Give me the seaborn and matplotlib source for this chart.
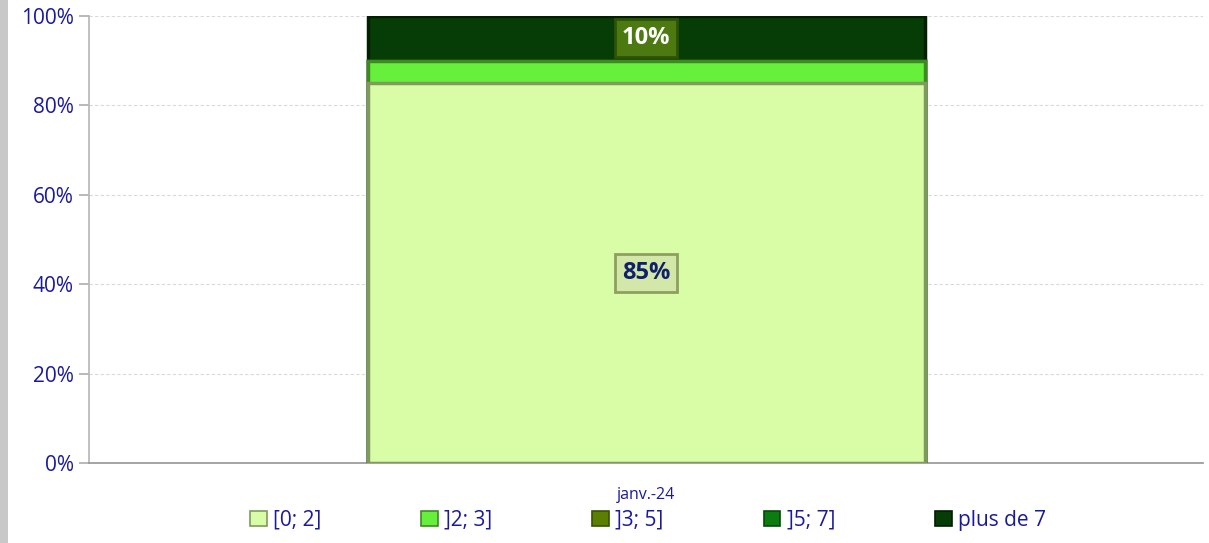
import numpy as np
import pandas as pd
import matplotlib
matplotlib.use("Agg")
import matplotlib.pyplot as plt
import seaborn as sns

# data
periods = ["janv.-24"]
classes = ["[0; 2]", "]2; 3]", "]3; 5]", "]5; 7]", "plus de 7"]
shares = [85, 5, 0, 0, 10]  # % for janv.-24
colors = ["#d8fda6", "#66f03c", "#5b7f00", "#0b7d10", "#063c06"]
edge_dark = ["#7f9a5c", "#3e8a22", "#3a5200", "#064a08", "#021f02"]

sns.set_theme(style="white")
plt.rcParams["font.family"] = ["Open Sans", "DejaVu Sans"]
navy = "#1a1a9c"

fig = plt.figure(figsize=(12.09, 5.43), dpi=100)
ax = fig.add_axes([89 / 1209, 80 / 543, 1114 / 1209, 447 / 543])

df = pd.DataFrame({"period": periods * len(classes),
                   "classe": classes,
                   "share": shares})
df["cum"] = df["share"].cumsum()

# stacked bars: draw cumulative totals from the top down
for i in range(len(classes) - 1, -1, -1):
    sub = df.iloc[[i]]
    sns.barplot(data=sub, x="period", y="cum", color=colors[i], width=0.5,
                saturation=1, edgecolor=edge_dark[i], linewidth=2.5, ax=ax,
                zorder=3)

ax.set_ylim(0, 100)
ax.set_xlim(-0.5, 0.5)
ax.set_yticks(np.arange(0, 101, 20))
ax.set_yticklabels([f"{v}%" for v in range(0, 101, 20)], color=navy, fontsize=15)
ax.tick_params(axis="y", length=7, color="#b0b0b0", left=True, pad=4)
ax.tick_params(axis="x", length=0, pad=17)
ax.set_xticklabels(periods, color=navy, fontsize=11.5)
ax.set_xlabel("")
ax.set_ylabel("")
ax.yaxis.grid(True, linestyle=(0, (3, 2)), color="#dadada", linewidth=0.8)
ax.set_axisbelow(True)
for s in ["top", "right"]:
    ax.spines[s].set_visible(False)
ax.spines["left"].set_color("#b8b8b8")
ax.spines["bottom"].set_color("#999999")

# value labels in boxes
bottoms = np.concatenate([[0], np.cumsum(shares)[:-1]])
label_style = {
    0: dict(fc="#d3e7a8", ec="#8ea060", tc="#10206a"),
    4: dict(fc="#4c7a10", ec="#2e5208", tc="white"),
}
for i, st in label_style.items():
    y = bottoms[i] + shares[i] / 2
    ax.text(0, y, f"{shares[i]}%", ha="center", va="center", fontsize=17,
            fontweight="bold", color=st["tc"], zorder=5,
            bbox=dict(boxstyle="square,pad=0.3", fc=st["fc"], ec=st["ec"], lw=2))

handles = [plt.Rectangle((0, 0), 1, 1, fc=c, ec=e, lw=1.2)
           for c, e in zip(colors, edge_dark)]
leg = fig.legend(handles, classes, loc="lower center", ncol=5,
                 bbox_to_anchor=(0.536, -0.012), frameon=False, fontsize=15,
                 handlelength=0.8, handleheight=0.8, handletextpad=0.3,
                 columnspacing=4.8)
for t in leg.get_texts():
    t.set_color(navy)

# grey frame at the left edge of the chart area
fig.add_artist(plt.Rectangle((0, 0), 8 / 1209, 1, transform=fig.transFigure,
                             fc="#c8c8c8", ec="none"))

fig.savefig("out.png", dpi=100)
